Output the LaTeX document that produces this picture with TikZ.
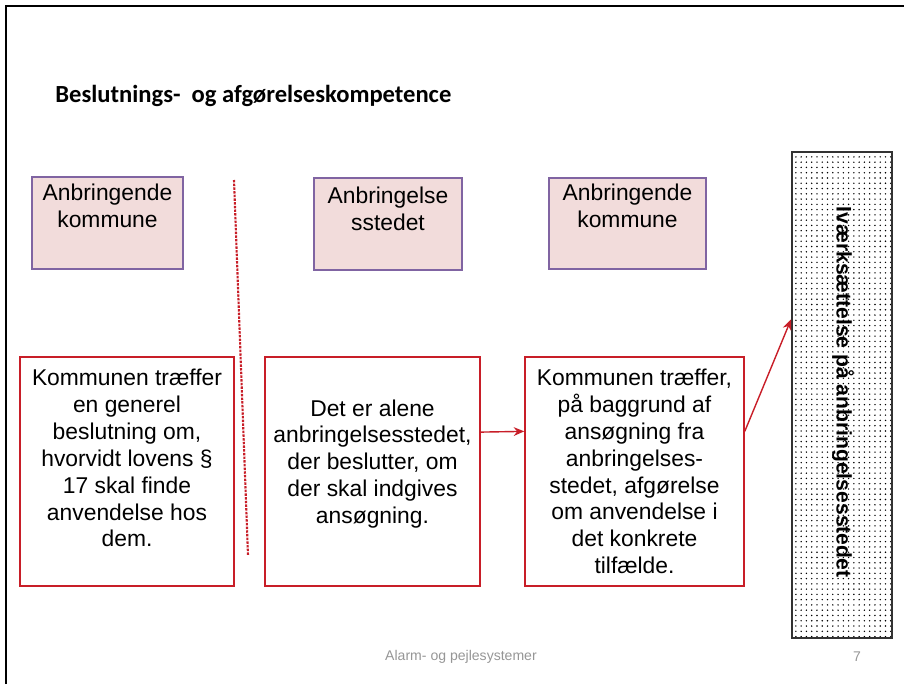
\documentclass[tikz,border=0pt]{standalone}
\usepackage{fontspec}
\setmainfont{Liberation Sans}
\newfontfamily\titlefont{Carlito}
\usetikzlibrary{arrows.meta,patterns.meta}
\definecolor{boxpink}{RGB}{242,220,219}
\definecolor{boxpurple}{RGB}{128,100,162}
\definecolor{boxred}{RGB}{200,30,40}
\definecolor{footgray}{RGB}{150,150,150}
\begin{document}
\begin{tikzpicture}[x=0.02cm,y=-0.02cm]
    % Node styles
    \tikzstyle{none}=[inner sep=0mm]
    \tikzstyle{pink box}=[fill=boxpink, draw=boxpurple, line width=0.9pt, shape=rectangle, minimum height=1.83cm]
    \tikzstyle{red box}=[fill=white, draw=boxred, line width=0.9pt, shape=rectangle, minimum height=4.58cm, align=center, font=\fontsize{13}{15.3}\selectfont]
    \tikzstyle{dot box}=[pattern={Dots[distance=3pt,radius=0.45pt]}, draw=black!80, line width=1.1pt, shape=rectangle, minimum width=2cm, minimum height=9.72cm]
    \tikzstyle{box text}=[inner sep=0mm, align=center, font=\fontsize{13}{15.3}\selectfont]
    % Edge styles
    \tikzstyle{arrow}=[-{Stealth[length=6pt,width=5pt]}, draw=boxred, line width=0.8pt]
    \tikzstyle{divider}=[draw=boxred, line width=1.2pt, dash pattern=on 1.4pt off 0.7pt]

    \useasboundingbox (0,0) rectangle (904,684);
    \draw [line width=1.3pt] (6,684) -- (6,6) -- (904,6);

    \node [style=none, anchor=west, font=\titlefont\bfseries\fontsize{14}{16}\selectfont] (0) at (55,96) {Beslutnings-\ \ og afgørelseskompetence};

    \node [style=pink box, minimum width=3.02cm] (1) at (107.5,223) {};
    \node [style=pink box, minimum width=2.96cm] (2) at (388,224) {};
    \node [style=pink box, minimum width=3.14cm] (3) at (627.5,223.5) {};
    \node [style=box text, anchor=north] (4) at (107.5,184) {Anbringende\\kommune};
    \node [style=box text, anchor=north] (5) at (388,187) {Anbringelse\\sstedet};
    \node [style=box text, anchor=north] (6) at (627.5,184) {Anbringende\\kommune};

    \node [style=red box, minimum width=4.28cm] (7) at (127,471.5) {Kommunen træffer\\en generel\\beslutning om,\\hvorvidt lovens §\\17 skal finde\\anvendelse hos\\dem.\\[0pt]};
    \node [style=red box, minimum width=4.3cm] (8) at (372.5,471.5) {Det er alene\\anbringelsesstedet,\\der beslutter, om\\der skal indgives\\ansøgning.\\[-4pt]};
    \node [style=red box, minimum width=4.38cm] (9) at (634.5,471.5) {Kommunen træffer,\\på baggrund af\\ansøgning fra\\anbringelses-\\stedet, afgørelse\\om anvendelse i\\det konkrete\\tilfælde.};

    \node [style=dot box] (10) at (842,395) {};
    \node [style=none, rotate=-90, font=\bfseries\fontsize{12}{14}\selectfont] (11) at (843,392) {Iværksættelse på anbringelsesstedet};

    \coordinate (12) at (234,180);
    \coordinate (13) at (248,555);

    \node [style=none, text=footgray, font=\fontsize{8}{10}\selectfont] (14) at (461,657) {Alarm- og pejlesystemer};
    \node [style=none, text=footgray, font=\fontsize{8}{10}\selectfont] (15) at (857,657) {7};

    \draw [style=divider] (12) to (13);
    \draw [style=arrow] (8.20) to (9.160);
    \draw [style=arrow] (9.20) to (10.124);
\end{tikzpicture}
\end{document}
